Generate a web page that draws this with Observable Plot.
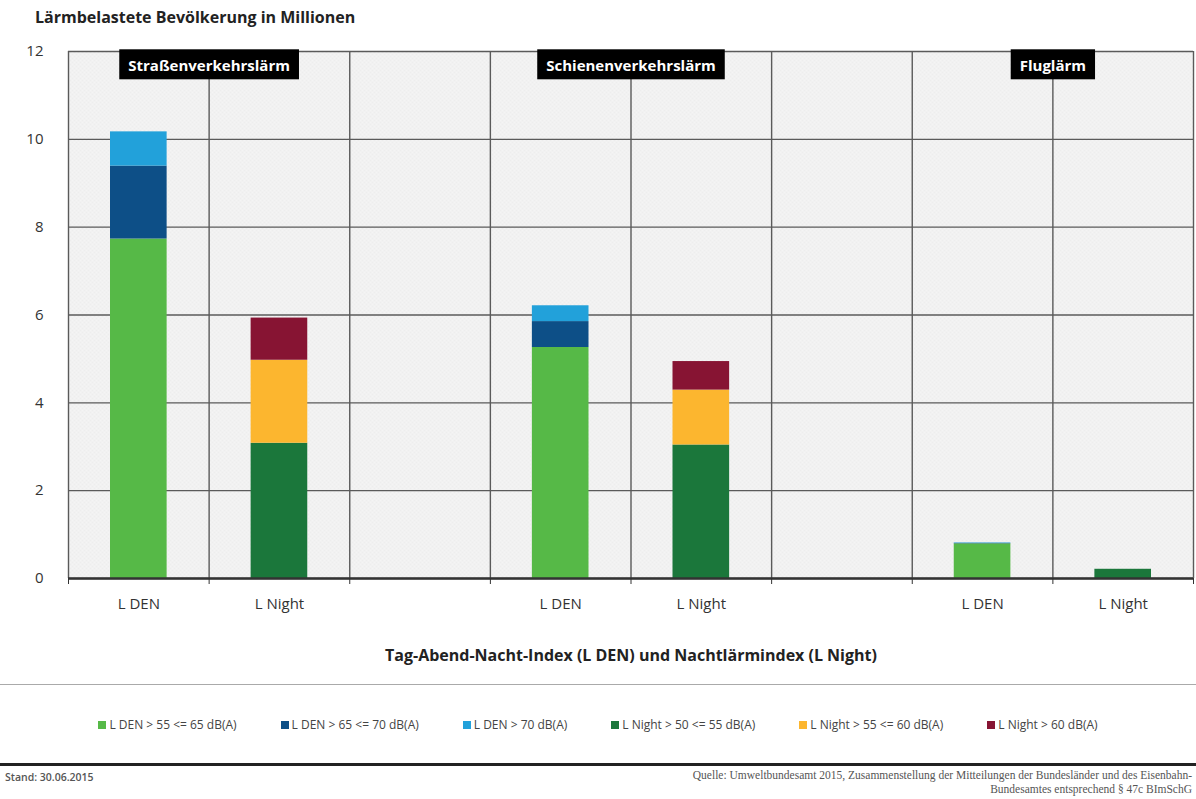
<!DOCTYPE html>
<html><head><meta charset="utf-8">
<script src="https://cdn.jsdelivr.net/npm/d3@7"></script>
<script src="https://cdn.jsdelivr.net/npm/@observablehq/plot@0.6"></script>
<style>
body{margin:0;background:#fff;width:1196px;height:799px;overflow:hidden;position:relative;font-family:"Open Sans",sans-serif;color:#333}
#title{position:absolute;left:35px;top:6px;font-size:16px;font-weight:700;color:#222}
#chart{position:absolute;left:0;top:40px}
#rule1{position:absolute;left:0;top:684px;width:1196px;height:1px;background:#aaa}
#legend{position:absolute;left:0;top:716px;width:1196px;display:flex;justify-content:center;gap:44px;font-size:12px;color:#444}
#legend span.sw{display:inline-block;width:8px;height:8px;margin-right:3px;vertical-align:0px}
#rule2{position:absolute;left:0;top:763px;width:1196px;height:3px;background:#222}
#stand{position:absolute;left:5px;top:770px;font-size:10.5px;font-weight:600;color:#555}
#source{position:absolute;right:4px;top:768px;font-family:"Liberation Serif",serif;font-size:11.5px;color:#555;text-align:right;line-height:14px;white-space:nowrap}
</style></head>
<body>
<svg width="0" height="0" style="position:absolute"><defs>
<pattern id="hatch" width="4" height="4" patternUnits="userSpaceOnUse">
<rect width="4" height="4" fill="#ededed"/>
<path d="M0,4 L4,0 M0,0 L4,4" stroke="#f6f6f6" stroke-width="0.7"/>
</pattern></defs></svg>
<div id="title">Lärmbelastete Bevölkerung in Millionen</div>
<div id="chart"></div>
<div id="rule1"></div>
<div id="legend"></div>
<div id="rule2"></div>
<div id="stand">Stand: 30.06.2015</div>
<div id="source">Quelle: Umweltbundesamt 2015, Zusammenstellung der Mitteilungen der Bundesländer und des Eisenbahn-<br>Bundesamtes entsprechend § 47c BImSchG</div>
<script>
// ---- data ----
const columns = ["L DEN", "L Night", "", "L DEN", "L Night", "", "L DEN", "L Night"];
const groups = ["Straßenverkehrslärm", "Schienenverkehrslärm", "Fluglärm"];
const groupDenColumn = [0, 3, 6];
const groupNightColumn = [1, 4, 7];
const yTicks = [0, 2, 4, 6, 8, 10, 12];

const denCategories = ["L DEN > 55 <= 65 dB(A)", "L DEN > 65 <= 70 dB(A)", "L DEN > 70 dB(A)"];
const nightCategories = ["L Night > 50 <= 55 dB(A)", "L Night > 55 <= 60 dB(A)", "L Night > 60 dB(A)"];
const den55to65 = [7.73, 5.26, 0.79];
const den65to70 = [1.66, 0.59, 0.01];
const denOver70 = [0.78, 0.36, 0.01];
const night50to55 = [3.08, 3.04, 0.21];
const night55to60 = [1.89, 1.25, 0.00];
const nightOver60 = [0.96, 0.65, 0.00];
const categoryColors = ["#56b947", "#0d4f87", "#22a1da", "#1b773b", "#fcb62f", "#871433"];

const xLabel = "Tag-Abend-Nacht-Index (L DEN) und Nachtlärmindex (L Night)";

// ---- build stacked rows ----
const rows = [];
groups.forEach((g, i) => {
  [[groupDenColumn[i], denCategories, [den55to65[i], den65to70[i], denOver70[i]]],
   [groupNightColumn[i], nightCategories, [night50to55[i], night55to60[i], nightOver60[i]]]]
  .forEach(([col, cats, vals]) => {
    let acc = 0;
    vals.forEach((v, k) => {
      if (v > 0) rows.push({group: g, col, cat: cats[k], y1: acc, y2: acc + v});
      acc += v;
    });
  });
});
const allCats = denCategories.concat(nightCategories);
const edges = d3.range(columns.length + 1);
const labelTicks = columns.map((c, i) => i + 0.5).filter((t, i) => columns[i] !== "");

const chart = Plot.plot({
  width: 1196, height: 630,
  marginLeft: 68, marginRight: 3, marginTop: 11, marginBottom: 92,
  style: {fontFamily: "Open Sans, sans-serif", color: "#333", background: "transparent"},
  x: {domain: [0, columns.length]},
  y: {domain: [0, 12]},
  color: {domain: allCats, range: categoryColors},
  marks: [
    Plot.frame({fill: "url(#hatch)", stroke: null}),
    Plot.ruleY(yTicks, {stroke: "#5a5a5a", strokeWidth: 1.4}),
    Plot.ruleX(edges, {y1: 0, y2: 12, stroke: "#5a5a5a", strokeWidth: 1.4}),
    Plot.rect(rows, {x1: "col", x2: d => d.col + 1, y1: "y1", y2: "y2", fill: "cat", insetLeft: 42, insetRight: 42}),
    Plot.ruleY([0], {stroke: "#333", strokeWidth: 2.5}),
    Plot.axisY({ticks: yTicks, tickSize: 0, tickPadding: 25, fontSize: 15, label: null}),
    Plot.axisX({ticks: edges, tickSize: 6, tickFormat: () => "", label: null, stroke: "#333"}),
    Plot.axisX({ticks: labelTicks, tickSize: 0, tickPadding: 20, fontSize: 15,
      tickFormat: t => columns[Math.floor(t)], label: xLabel, labelAnchor: "center",
      labelOffset: 82, labelArrow: "none"}),
    Plot.text(groups, {x: (d, i) => groupNightColumn[i], y: 12, dy: 15, text: d => d,
      fill: "white", fontSize: 15, fontWeight: "bold", className: "hdr"})
  ]
});
document.getElementById("chart").appendChild(chart);

// bold axis label
chart.querySelectorAll("text").forEach(t => {
  if (t.textContent === xLabel) { t.style.fontWeight = "bold"; t.style.fontSize = "16px"; t.style.fill = "#222"; }
});
// black boxes behind the group headers
chart.querySelectorAll(".hdr text").forEach(t => {
  const b = t.getBBox();
  const r = document.createElementNS("http://www.w3.org/2000/svg", "rect");
  r.setAttribute("x", b.x - 9); r.setAttribute("y", b.y - 6);
  r.setAttribute("width", b.width + 18); r.setAttribute("height", b.height + 10);
  r.setAttribute("fill", "#000");
  if (t.getAttribute("transform")) r.setAttribute("transform", t.getAttribute("transform"));
  t.parentNode.insertBefore(r, t);
});

// legend
const lg = document.getElementById("legend");
allCats.forEach((c, i) => {
  const d = document.createElement("div");
  d.innerHTML = `<span class="sw" style="background:${categoryColors[i]}"></span>${c.replace(/</g, "&lt;")}`;
  lg.appendChild(d);
});
</script>
</body></html>
